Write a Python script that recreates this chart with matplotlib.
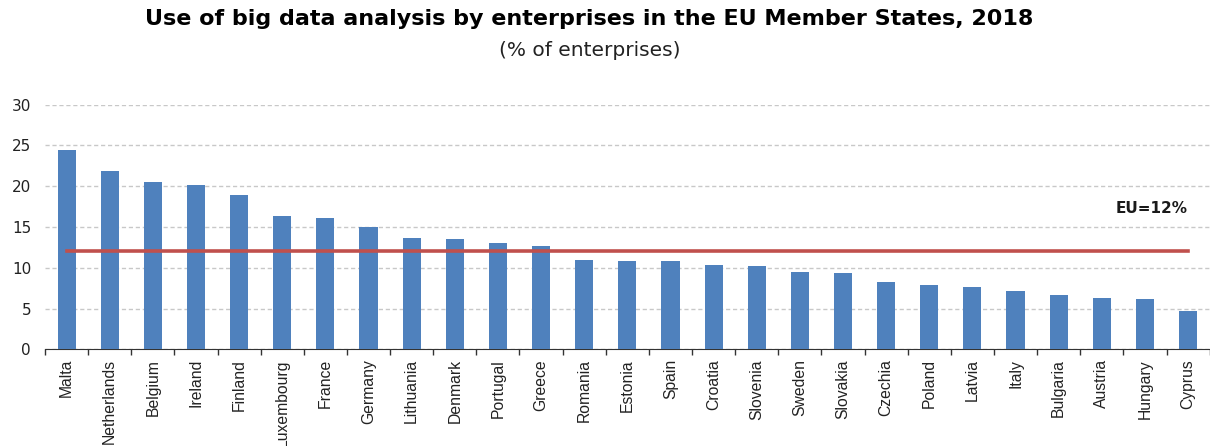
import matplotlib
matplotlib.use("Agg")
import matplotlib.pyplot as plt
import numpy as np

countries = ["Malta", "Netherlands", "Belgium", "Ireland", "Finland", "Luxembourg",
             "France", "Germany", "Lithuania", "Denmark", "Portugal", "Greece",
             "Romania", "Estonia", "Spain", "Croatia", "Slovenia", "Sweden",
             "Slovakia", "Czechia", "Poland", "Latvia", "Italy", "Bulgaria",
             "Austria", "Hungary", "Cyprus"]
values = [24.4, 21.9, 20.5, 20.2, 18.9, 16.4, 16.1, 15.0, 13.7, 13.5, 13.0, 12.7,
          11.0, 10.8, 10.8, 10.3, 10.2, 9.5, 9.3, 8.2, 7.9, 7.7, 7.2, 6.7,
          6.3, 6.2, 4.7]
eu_avg = 12
yticks = [0, 5, 10, 15, 20, 25, 30]

# horizontal text in the reference looks stretched -> wider DejaVu for it
plt.rcParams['font.family'] = ['DejaVu Sans']

fig = plt.figure(figsize=(12.1, 4.46), dpi=100)
ax = fig.add_axes([0.0372, 0.2168, 0.9625, 0.5484])

x = np.arange(len(countries))
ax.bar(x, values, width=0.42, color="#4F81BD", zorder=3)
ax.plot([x[0], x[-1]], [eu_avg, eu_avg], color="#C0504D", linewidth=2.6, zorder=4)
ax.text(x[-1], 17.3, "EU=12%", ha="right", va="center", fontsize=11,
        fontweight="bold", color="#1a1a1a")

ax.set_xlim(-0.5, len(countries) - 0.5)
ax.set_ylim(0, 30)
ax.set_yticks(yticks)
ax.tick_params(axis="y", length=0, pad=10, labelsize=11, labelcolor="#222222")
ax.yaxis.grid(True, linestyle=(0, (3, 2)), color="#c8c8c8", linewidth=1, zorder=0)

ax.set_xticks(x)
ax.set_xticklabels(countries, rotation=90, fontsize=11.3, color="#222222",
                   family="Liberation Sans")
ax.tick_params(axis="x", which="major", length=0, pad=7)
ax.set_xticks(np.arange(-0.5, len(countries), 1), minor=True)
ax.tick_params(axis="x", which="minor", length=4, width=1, color="#333333")

for s in ["top", "right", "left"]:
    ax.spines[s].set_visible(False)
ax.spines["bottom"].set_color("#333333")

fig.text(0.487, 0.957, "Use of big data analysis by enterprises in the EU Member States, 2018",
         ha="center", va="center", fontsize=16, fontweight="bold")
fig.text(0.487, 0.887, "(% of enterprises)", ha="center", va="center", fontsize=14.5,
         color="#222222")

fig.savefig("out.png", dpi=100)
